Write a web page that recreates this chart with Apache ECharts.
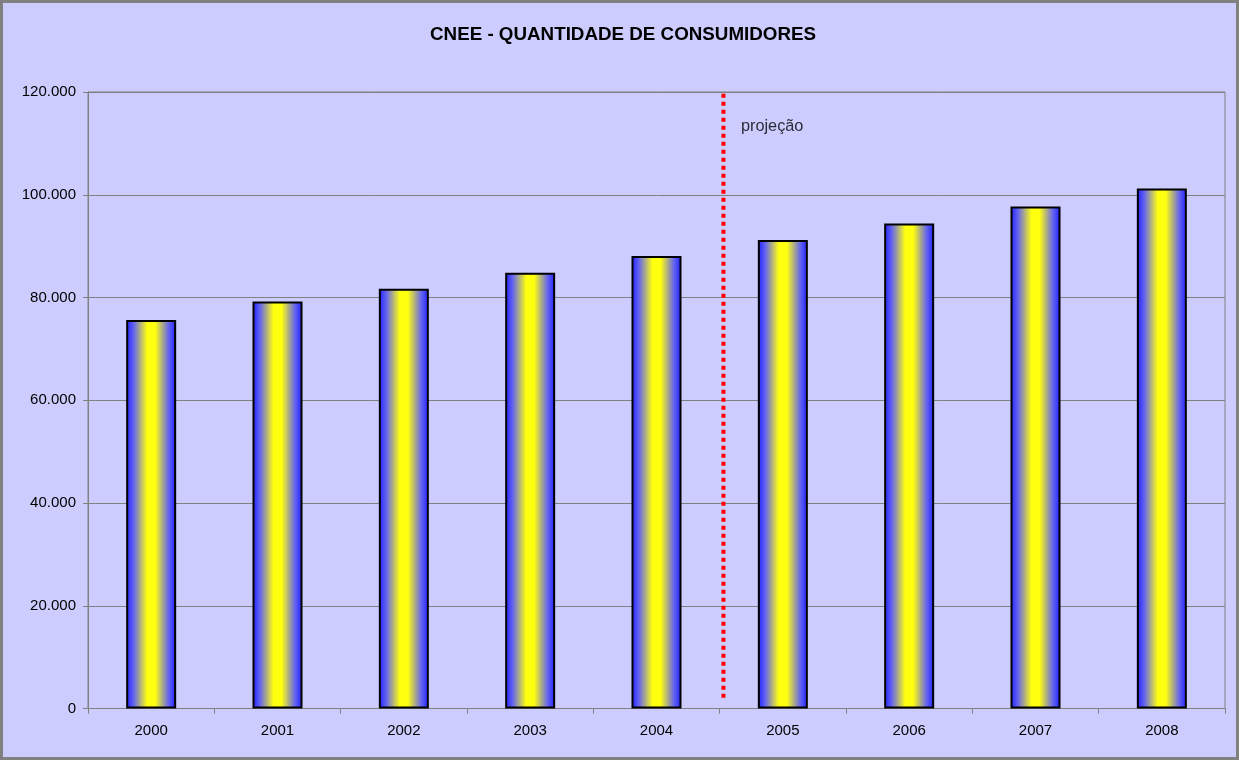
<!DOCTYPE html>
<html>
<head>
<meta charset="utf-8">
<script src="https://cdn.jsdelivr.net/npm/echarts@6/dist/echarts.min.js"></script>
<style>
html,body{margin:0;padding:0;background:#ccccff;}
#chart{width:1239px;height:760px;}
</style>
</head>
<body>
<div id="chart"></div>
<script>
const titleText = 'CNEE - QUANTIDADE DE CONSUMIDORES';
const categories = ['2000','2001','2002','2003','2004','2005','2006','2007','2008'];
const consumers = [75600, 79200, 81700, 84800, 88100, 91200, 94400, 97700, 101200];
const yTicks = [0, 20000, 40000, 60000, 80000, 100000, 120000];
// projection marker, in category-slot units along x and in values along y
const projectionX = 5.03;
const projectionRange = [2100, 119700];
const projectionLabel = 'projeção';
const projectionLabelY = 113200;

const fmt = v => String(v).replace(/\B(?=(\d{3})+(?!\d))/g, '.');

const chart = echarts.init(document.getElementById('chart'), null, {renderer:'canvas'});
const font = "'Liberation Sans', Arial, sans-serif";

chart.setOption({
  backgroundColor: '#ccccff',
  animation: false,
  title: {
    text: titleText,
    left: 425,
    top: 20,
    textStyle: {fontFamily: font, fontSize: 18.8, fontWeight: 'bold', color: '#000'}
  },
  graphic: [{
    type: 'rect',
    shape: {x: 1.5, y: 1.5, width: 1236, height: 757},
    style: {fill: 'none', stroke: '#808080', lineWidth: 3},
    silent: true
  }],
  grid: {left: 88, right: 14, top: 92, bottom: 51.5, show: true, borderColor: '#808080', borderWidth: 1, backgroundColor: 'transparent'},
  xAxis: [{
    type: 'category',
    data: categories,
    boundaryGap: true,
    axisLine: {lineStyle: {color: '#808080', width: 1}},
    axisTick: {show: true, length: 5, lineStyle: {color: '#808080'}},
    axisLabel: {fontFamily: font, fontSize: 15, color: '#000', margin: 15}
  }, {
    type: 'value',
    min: 0, max: categories.length,
    show: false
  }],
  yAxis: {
    type: 'value',
    min: yTicks[0], max: yTicks[yTicks.length-1], interval: yTicks[1]-yTicks[0],
    axisLine: {show: true, lineStyle: {color: '#808080'}},
    axisTick: {show: true, length: 5, lineStyle: {color: '#808080'}},
    splitLine: {lineStyle: {color: '#808080', width: 1}},
    axisLabel: {fontFamily: font, fontSize: 15, color: '#000', margin: 12, formatter: fmt}
  },
  series: [{
    type: 'bar',
    data: consumers,
    barWidth: 50,
    itemStyle: {
      borderColor: '#000',
      borderWidth: 2,
      color: {
        type: 'linear', x: 0, y: 0, x2: 1, y2: 0,
        colorStops: [
          {offset: 0, color: '#1f1fff'},
          {offset: 0.15, color: '#6464f0'},
          {offset: 0.42, color: '#ffff10'},
          {offset: 0.58, color: '#ffff10'},
          {offset: 0.85, color: '#6464f0'},
          {offset: 1, color: '#1f1fff'}
        ]
      }
    },
    emphasis: {disabled: true}
  }, {
    type: 'line',
    xAxisIndex: 1,
    data: [[projectionX, projectionRange[0]], [projectionX, projectionRange[1]]],
    showSymbol: false,
    symbol: 'none',
    lineStyle: {color: '#ff0000', width: 4, type: [4, 4]},
    z: 5
  }, {
    type: 'scatter',
    xAxisIndex: 1,
    data: [[projectionX, projectionLabelY]],
    symbolSize: 1,
    itemStyle: {color: 'rgba(0,0,0,0)'},
    label: {show: true, position: 'right', distance: 17, formatter: projectionLabel,
            fontFamily: font, fontSize: 16.3, color: '#000'}
  }]
});
</script>
</body>
</html>
